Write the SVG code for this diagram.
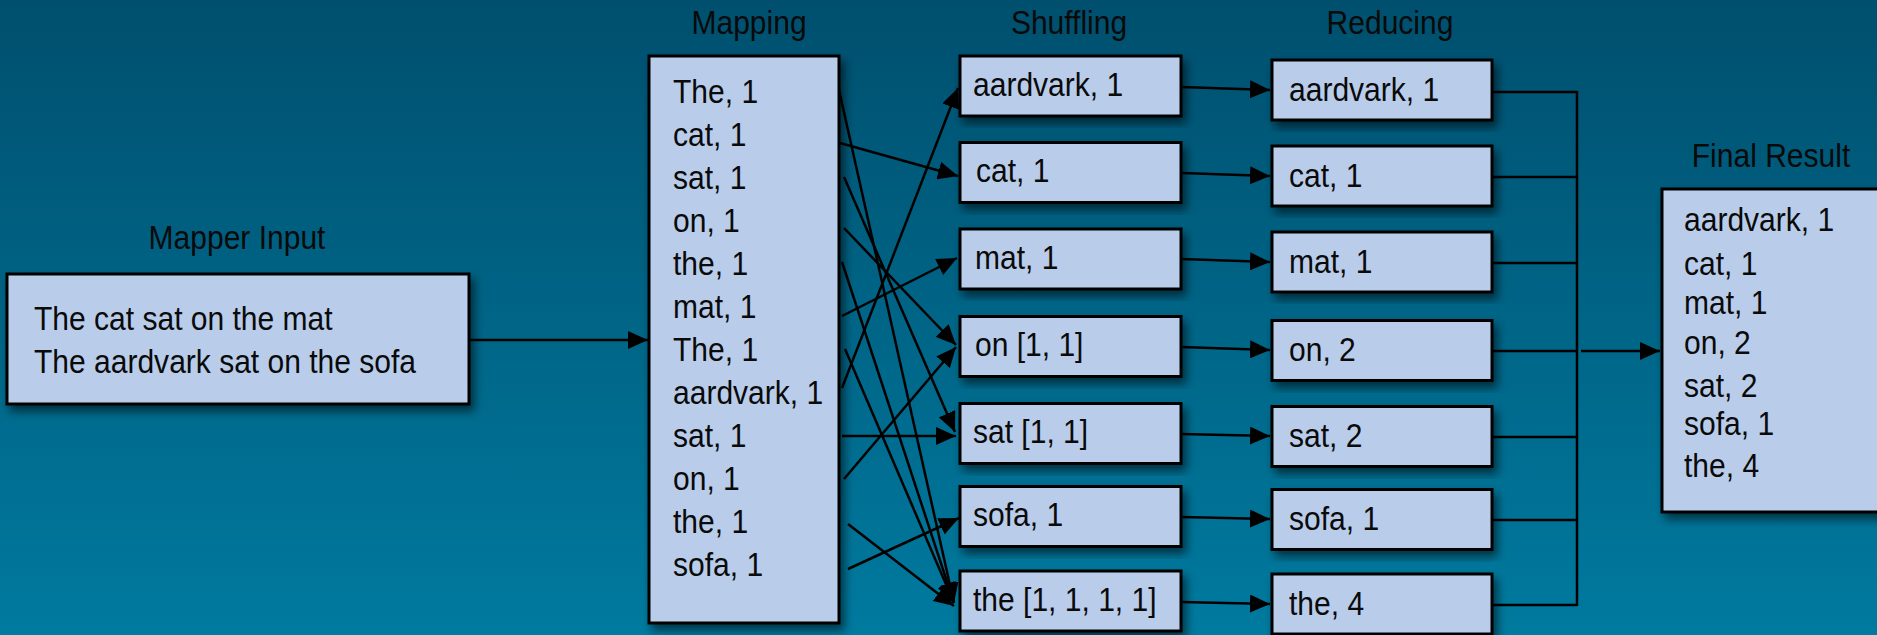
<svg xmlns="http://www.w3.org/2000/svg" width="1877" height="635" viewBox="0 0 1877 635">
  <defs>
    <linearGradient id="bg" x1="0" y1="0" x2="0" y2="1">
      <stop offset="0" stop-color="#004f6e"/>
      <stop offset="1" stop-color="#007a9f"/>
    </linearGradient>
    <filter id="shadow" x="-10%" y="-10%" width="130%" height="130%">
      <feDropShadow dx="4" dy="6" stdDeviation="5" flood-color="#000" flood-opacity="0.55"/>
    </filter>
    <marker id="arrow" markerUnits="userSpaceOnUse" markerWidth="20" markerHeight="18" refX="20" refY="9" orient="auto">
      <path d="M0,0 L20,9 L0,18 z" fill="#000"/>
    </marker>
    <style>
      .box { fill: #b9cdeb; stroke: #000; stroke-width: 3; filter: url(#shadow); }
      /* narrow-looking face: tall glyphs squeezed horizontally */
      .txt { font-family: "Liberation Sans", Arial, sans-serif; font-size: 33px; fill: #0a0a0a; }
      .title { font-family: "Liberation Sans", Arial, sans-serif; font-size: 33px; fill: #0a0a0a; text-anchor: middle; }
      .edge { stroke: #000; stroke-width: 2.5; fill: none; }
      .arr { stroke: #000; stroke-width: 2.5; fill: none; marker-end: url(#arrow); }
    </style>
  </defs>

  <rect x="0" y="0" width="1877" height="635" fill="url(#bg)"/>

  <!-- column headings -->
  <g id="titles">
    <text class="title" transform="translate(237,249) scale(0.91,1)">Mapper Input</text>
    <text class="title" transform="translate(749,34) scale(0.91,1)">Mapping</text>
    <text class="title" transform="translate(1069,34) scale(0.91,1)">Shuffling</text>
    <text class="title" transform="translate(1390,34) scale(0.91,1)">Reducing</text>
    <text class="title" transform="translate(1771,167) scale(0.91,1)">Final Result</text>
  </g>

  <!-- input text -->
  <g id="mapper-input">
    <rect class="box" x="7" y="274" width="462" height="130"/>
    <text class="txt" transform="translate(34,330) scale(0.91,1)">The cat sat on the mat</text>
    <text class="txt" transform="translate(34,373) scale(0.91,1)">The aardvark sat on the sofa</text>
  </g>

  <!-- key/value pairs emitted by the mappers -->
  <g id="mapping">
    <rect class="box" x="649" y="56" width="190" height="567"/>
    <text class="txt" transform="translate(673,103) scale(0.91,1)">The, 1</text>
    <text class="txt" transform="translate(673,146) scale(0.91,1)">cat, 1</text>
    <text class="txt" transform="translate(673,189) scale(0.91,1)">sat, 1</text>
    <text class="txt" transform="translate(673,232) scale(0.91,1)">on, 1</text>
    <text class="txt" transform="translate(673,275) scale(0.91,1)">the, 1</text>
    <text class="txt" transform="translate(673,318) scale(0.91,1)">mat, 1</text>
    <text class="txt" transform="translate(673,361) scale(0.91,1)">The, 1</text>
    <text class="txt" transform="translate(673,404) scale(0.91,1)">aardvark, 1</text>
    <text class="txt" transform="translate(673,447) scale(0.91,1)">sat, 1</text>
    <text class="txt" transform="translate(673,490) scale(0.91,1)">on, 1</text>
    <text class="txt" transform="translate(673,533) scale(0.91,1)">the, 1</text>
    <text class="txt" transform="translate(673,576) scale(0.91,1)">sofa, 1</text>
  </g>

  <!-- grouped values per key -->
  <g id="shuffle-aardvark">
    <rect class="box" x="960" y="56" width="221" height="60"/>
    <text class="txt" transform="translate(973,96) scale(0.91,1)">aardvark, 1</text>
  </g>
  <g id="shuffle-cat">
    <rect class="box" x="960" y="142.5" width="221" height="60"/>
    <text class="txt" transform="translate(976,182) scale(0.91,1)">cat, 1</text>
  </g>
  <g id="shuffle-mat">
    <rect class="box" x="960" y="229" width="221" height="60"/>
    <text class="txt" transform="translate(975,269) scale(0.91,1)">mat, 1</text>
  </g>
  <g id="shuffle-on">
    <rect class="box" x="960" y="316.5" width="221" height="60"/>
    <text class="txt" transform="translate(975,356) scale(0.91,1)">on [1, 1]</text>
  </g>
  <g id="shuffle-sat">
    <rect class="box" x="960" y="403.5" width="221" height="60"/>
    <text class="txt" transform="translate(973,443) scale(0.91,1)">sat [1, 1]</text>
  </g>
  <g id="shuffle-sofa">
    <rect class="box" x="960" y="486.5" width="221" height="60"/>
    <text class="txt" transform="translate(973,526) scale(0.91,1)">sofa, 1</text>
  </g>
  <g id="shuffle-the">
    <rect class="box" x="960" y="571" width="221" height="60"/>
    <text class="txt" transform="translate(973,611) scale(0.91,1)">the [1, 1, 1, 1]</text>
  </g>

  <!-- reduced counts -->
  <g id="reduce-aardvark">
    <rect class="box" x="1272" y="60" width="220" height="60"/>
    <text class="txt" transform="translate(1289,101) scale(0.91,1)">aardvark, 1</text>
  </g>
  <g id="reduce-cat">
    <rect class="box" x="1272" y="146" width="220" height="60"/>
    <text class="txt" transform="translate(1289,187) scale(0.91,1)">cat, 1</text>
  </g>
  <g id="reduce-mat">
    <rect class="box" x="1272" y="232" width="220" height="60"/>
    <text class="txt" transform="translate(1289,273) scale(0.91,1)">mat, 1</text>
  </g>
  <g id="reduce-on">
    <rect class="box" x="1272" y="320.5" width="220" height="60"/>
    <text class="txt" transform="translate(1289,361) scale(0.91,1)">on, 2</text>
  </g>
  <g id="reduce-sat">
    <rect class="box" x="1272" y="406.5" width="220" height="60"/>
    <text class="txt" transform="translate(1289,447) scale(0.91,1)">sat, 2</text>
  </g>
  <g id="reduce-sofa">
    <rect class="box" x="1272" y="489.5" width="220" height="60"/>
    <text class="txt" transform="translate(1289,530) scale(0.91,1)">sofa, 1</text>
  </g>
  <g id="reduce-the">
    <rect class="box" x="1272" y="574" width="220" height="60"/>
    <text class="txt" transform="translate(1289,615) scale(0.91,1)">the, 4</text>
  </g>

  <!-- merged output -->
  <g id="final-result">
    <rect class="box" x="1662" y="189" width="240" height="323"/>
    <text class="txt" transform="translate(1684,231) scale(0.91,1)">aardvark, 1</text>
    <text class="txt" transform="translate(1684,275) scale(0.91,1)">cat, 1</text>
    <text class="txt" transform="translate(1684,314) scale(0.91,1)">mat, 1</text>
    <text class="txt" transform="translate(1684,354) scale(0.91,1)">on, 2</text>
    <text class="txt" transform="translate(1684,397) scale(0.91,1)">sat, 2</text>
    <text class="txt" transform="translate(1684,435) scale(0.91,1)">sofa, 1</text>
    <text class="txt" transform="translate(1684,477) scale(0.91,1)">the, 4</text>
  </g>

  <g id="connectors">
    <!-- input to mappers -->
    <line class="arr" x1="469" y1="340" x2="648" y2="340"/>

    <!-- mapping to shuffling -->
    <line class="arr" x1="839" y1="90" x2="954" y2="603"/>
    <line class="arr" x1="840" y1="143" x2="958" y2="176"/>
    <line class="arr" x1="844" y1="177" x2="955" y2="432"/>
    <line class="arr" x1="844" y1="228" x2="956" y2="345"/>
    <line class="arr" x1="842" y1="262" x2="954" y2="603"/>
    <line class="arr" x1="842" y1="316" x2="957" y2="258"/>
    <line class="arr" x1="845" y1="349" x2="954" y2="603"/>
    <line class="arr" x1="842" y1="388" x2="958" y2="88"/>
    <line class="arr" x1="842" y1="436" x2="956" y2="436"/>
    <line class="arr" x1="844" y1="479" x2="956" y2="347"/>
    <line class="arr" x1="848" y1="524" x2="954" y2="606"/>
    <line class="arr" x1="848" y1="569" x2="959" y2="518"/>

    <!-- shuffling to reducing -->
    <line class="arr" x1="1181" y1="87" x2="1270" y2="90"/>
    <line class="arr" x1="1181" y1="173" x2="1270" y2="176"/>
    <line class="arr" x1="1181" y1="259" x2="1270" y2="262"/>
    <line class="arr" x1="1181" y1="347" x2="1270" y2="350"/>
    <line class="arr" x1="1181" y1="434" x2="1270" y2="436"/>
    <line class="arr" x1="1181" y1="517" x2="1270" y2="519"/>
    <line class="arr" x1="1181" y1="602" x2="1270" y2="604"/>

    <!-- reducing to final result -->
    <path class="edge" d="M1492,92 H1577 M1492,177 H1577 M1492,263 H1577 M1492,351 H1577 M1492,437 H1577 M1492,520 H1577 M1492,605 H1577 M1577,91 V606"/>
    <line class="arr" x1="1581" y1="351" x2="1660" y2="351"/>
  </g>
</svg>
